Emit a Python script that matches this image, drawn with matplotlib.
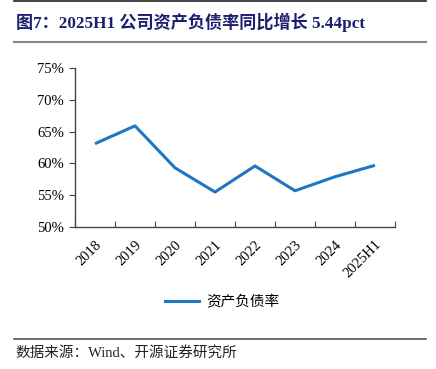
import matplotlib.pyplot as plt
from matplotlib.lines import Line2D

plt.rcParams['font.family'] = ['Liberation Serif', 'Noto Sans CJK SC', 'DejaVu Sans']

years = ["2018", "2019", "2020", "2021", "2022", "2023", "2024", "2025H1"]
debt_ratio = [63.1, 65.9, 59.3, 55.5, 59.6, 55.7, 57.9, 59.7]
yticks = [50, 55, 60, 65, 70, 75]
series_name = "资产负债率"
title = "图7：2025H1 公司资产负债率同比增长 5.44pct"
source = "数据来源：Wind、开源证券研究所"

W, H = 436, 369
fig = plt.figure(figsize=(W / 100, H / 100), dpi=100)

# axes placement in pixels: x 75..395, y 68..227
ax = fig.add_axes([75 / W, 1 - 227 / H, 320 / W, 159 / H])
xs = list(range(len(years)))
ax.plot(xs, debt_ratio, color='#1f77c4', lw=2.2, solid_capstyle='butt')
ax.set_xlim(-0.5, len(years) - 0.5)
ax.set_ylim(50, 75)
ax.set_yticks(yticks)
ax.set_yticklabels([f"{v}%" for v in yticks], fontsize=10.5)
ax.set_xticks([i - 0.5 for i in range(len(years) + 1)], minor=False)
ax.set_xticklabels([])
ax.set_xticks(xs, minor=True)
ax.set_xticklabels(years, minor=True, rotation=45, ha='right', va='top',
                   rotation_mode='anchor', fontsize=10.5)
ax.tick_params(axis='x', which='major', direction='in', length=4, color='#444444')
ax.tick_params(axis='x', which='minor', length=0, pad=8)
ax.tick_params(axis='y', direction='out', length=4, color='#444444', pad=4)
for s in ['top', 'right']:
    ax.spines[s].set_visible(False)
for s in ['left', 'bottom']:
    ax.spines[s].set_color('#444444')
    ax.spines[s].set_linewidth(1.0)

# legend
fig.legend(handles=[Line2D([], [], color='#1f77c4', lw=2.2)], labels=[series_name],
           loc='center', bbox_to_anchor=(222 / W, 1 - 302 / H), frameon=False,
           handlelength=2.3, handletextpad=0.5,
           prop={'family': 'Noto Sans CJK SC', 'size': 10.5})

# title, rules and source
fig.add_artist(Line2D([14 / W, 426 / W], [1 - 1 / H, 1 - 1 / H], color='#222222', lw=1.2))
fig.text(16 / W, 1 - 22 / H, title, fontsize=12.3, fontweight='bold', color='#1b1f6e',
         va='center', ha='left')
fig.add_artist(Line2D([14 / W, 426 / W], [1 - 42 / H, 1 - 42 / H], color='#888888', lw=1.5))
fig.add_artist(Line2D([14 / W, 426 / W], [1 - 339 / H, 1 - 339 / H], color='#555555', lw=1.2))
fig.text(15 / W, 1 - 353 / H, source, fontsize=10.5, color='#222222', va='center', ha='left')

fig.savefig('out.png', dpi=100)
